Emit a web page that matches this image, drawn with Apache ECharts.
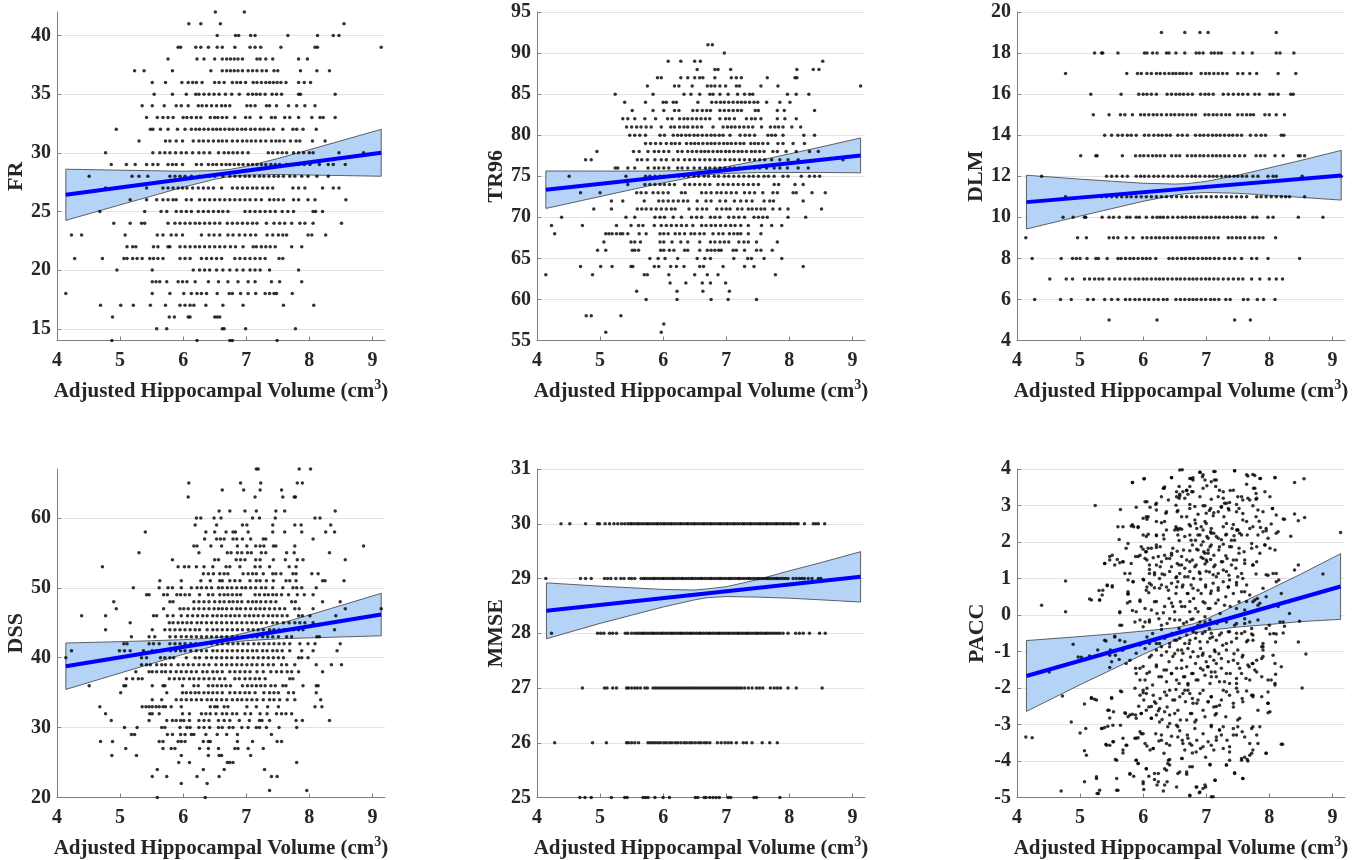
<!DOCTYPE html>
<html>
<head>
<meta charset="utf-8">
<script src="https://cdn.jsdelivr.net/npm/echarts@6/dist/echarts.min.js"></script>
<style>
    html, body {margin: 0; padding: 0; background: #fff;}
    #chart {width: 1369px; height: 860px;}
</style>
</head>
<body>
<div id="chart"></div>
<script>
// ---- FR: x values of the dots on each integer level ----
const frLevels = [42, 41, 40, 39, 38, 37, 36, 35, 34, 33, 32, 31, 30, 29, 28, 27, 26, 25, 24, 23, 22, 21, 20, 19, 18, 17, 16, 15, 14];
const frX = [
    [6.51, 6.97],
    [6.09, 6.28, 6.59, 8.55],
    [6.54, 6.83, 6.88, 7.07, 7.14, 7.66, 8.13, 8.38, 8.47],
    [5.92, 5.96, 6.20, 6.28, 6.40, 6.54, 6.62, 6.82, 7.06, 7.14, 7.23, 7.55, 8.09, 8.13, 9.14],
    [5.76, 6.22, 6.33, 6.50, 6.62, 6.69, 6.75, 6.81, 6.87, 6.94, 7.17, 7.22, 7.31, 7.42, 7.83, 7.97],
    [5.23, 5.38, 5.83, 6.44, 6.62, 6.69, 6.75, 6.81, 6.87, 6.94, 7.03, 7.10, 7.17, 7.25, 7.32, 7.44, 7.50, 7.86, 8.12, 8.32],
    [5.51, 5.72, 5.98, 6.08, 6.15, 6.21, 6.30, 6.50, 6.57, 6.65, 6.78, 6.85, 6.91, 6.99, 7.11, 7.17, 7.24, 7.31, 7.37, 7.43, 7.49, 7.55, 7.63, 7.83, 7.92, 8.02],
    [5.54, 5.83, 6.05, 6.20, 6.25, 6.33, 6.41, 6.49, 6.57, 6.67, 6.77, 6.89, 7.03, 7.10, 7.16, 7.22, 7.30, 7.41, 7.48, 7.56, 7.83, 7.86, 8.41],
    [5.35, 5.51, 5.70, 5.89, 5.97, 6.08, 6.24, 6.30, 6.37, 6.45, 6.53, 6.61, 6.67, 6.74, 7.01, 7.07, 7.14, 7.32, 7.37, 7.48, 7.67, 7.80, 7.93, 8.09],
    [5.42, 5.59, 5.68, 5.76, 5.84, 6.00, 6.06, 6.13, 6.21, 6.28, 6.43, 6.50, 6.55, 6.62, 6.69, 6.82, 6.99, 7.06, 7.23, 7.40, 7.46, 7.61, 7.69, 7.83, 8.04, 8.17, 8.22, 8.41],
    [4.94, 5.48, 5.52, 5.64, 5.76, 5.91, 6.03, 6.13, 6.20, 6.26, 6.33, 6.40, 6.47, 6.53, 6.59, 6.66, 6.73, 6.79, 6.86, 6.93, 6.99, 7.07, 7.14, 7.22, 7.28, 7.35, 7.43, 7.58, 7.74, 7.80, 7.90, 8.11],
    [5.30, 5.72, 5.79, 5.89, 5.99, 6.16, 6.25, 6.32, 6.40, 6.48, 6.56, 6.62, 6.69, 6.78, 6.86, 6.94, 7.01, 7.08, 7.15, 7.23, 7.31, 7.40, 7.47, 7.53, 7.60, 7.70, 7.79, 7.85, 8.05, 8.25],
    [4.77, 5.52, 5.63, 5.71, 5.79, 5.88, 5.97, 6.05, 6.15, 6.25, 6.33, 6.42, 6.56, 6.65, 6.72, 6.79, 6.86, 6.94, 7.03, 7.35, 7.42, 7.50, 7.57, 7.64, 7.75, 7.83, 7.91, 8.00, 8.06, 8.47, 8.86],
    [4.86, 5.10, 5.24, 5.42, 5.52, 5.60, 5.76, 5.83, 5.89, 5.99, 6.21, 6.29, 6.40, 6.47, 6.53, 6.61, 6.68, 6.74, 6.81, 6.88, 6.95, 7.03, 7.10, 7.17, 7.24, 7.31, 7.39, 7.46, 7.53, 7.64, 7.72, 7.83, 7.92, 8.01, 8.16, 8.30, 8.38, 8.57],
    [4.51, 5.19, 5.30, 5.44, 5.79, 5.87, 5.95, 6.03, 6.13, 6.26, 6.34, 6.42, 6.50, 6.63, 6.74, 6.82, 6.90, 6.98, 7.05, 7.13, 7.21, 7.28, 7.36, 7.44, 7.51, 7.59, 7.69, 7.77, 7.88, 7.98, 8.12, 8.30],
    [4.77, 5.42, 5.68, 5.76, 5.84, 5.92, 5.99, 6.06, 6.15, 6.24, 6.32, 6.40, 6.48, 6.61, 6.78, 6.86, 6.94, 7.02, 7.10, 7.17, 7.26, 7.34, 7.42, 7.74, 7.83, 7.93, 8.21, 8.38, 8.47],
    [5.16, 5.42, 5.58, 5.68, 5.76, 5.84, 5.89, 6.05, 6.13, 6.26, 6.34, 6.42, 6.50, 6.58, 6.66, 6.74, 6.82, 6.90, 6.98, 7.06, 7.15, 7.24, 7.37, 7.44, 7.51, 7.59, 7.75, 7.83, 7.98, 8.09, 8.58],
    [4.68, 5.39, 5.65, 5.74, 5.89, 5.97, 6.05, 6.13, 6.24, 6.32, 6.40, 6.48, 6.56, 6.63, 6.71, 6.98, 7.06, 7.14, 7.22, 7.30, 7.38, 7.46, 7.57, 7.66, 7.75, 8.06, 8.10, 8.21],
    [4.90, 5.16, 5.34, 5.39, 5.76, 5.87, 5.95, 6.03, 6.11, 6.19, 6.26, 6.34, 6.42, 6.50, 6.58, 6.70, 6.78, 6.86, 6.94, 7.02, 7.10, 7.17, 7.32, 7.44, 7.53, 7.61, 7.72, 7.85, 7.93, 8.06, 8.51],
    [4.23, 4.39, 5.08, 5.59, 5.68, 5.81, 5.89, 5.99, 6.29, 6.41, 6.49, 6.58, 6.71, 6.79, 6.89, 6.98, 7.07, 7.15, 7.33, 7.42, 7.51, 7.58, 7.64, 7.98, 8.04, 8.26],
    [5.11, 5.20, 5.25, 5.53, 5.60, 5.76, 5.79, 5.95, 6.03, 6.11, 6.19, 6.26, 6.34, 6.42, 6.50, 6.58, 6.66, 6.75, 6.83, 6.95, 7.11, 7.16, 7.24, 7.31, 7.38, 7.46, 7.72, 7.88],
    [4.28, 4.72, 5.06, 5.11, 5.20, 5.27, 5.35, 5.47, 5.53, 5.60, 5.68, 5.95, 6.03, 6.11, 6.29, 6.37, 6.45, 6.53, 6.61, 6.82, 6.90, 6.98, 7.06, 7.14, 7.22, 7.30, 7.52, 7.58],
    [4.95, 5.51, 6.16, 6.26, 6.34, 6.42, 6.53, 6.63, 6.74, 6.85, 6.95, 7.06, 7.14, 7.22, 7.37, 7.83],
    [5.51, 5.57, 5.63, 5.74, 5.92, 5.99, 6.06, 6.19, 6.40, 6.56, 6.71, 6.87, 7.03, 7.14, 7.40, 7.53, 7.88],
    [4.14, 5.51, 5.79, 6.01, 6.13, 6.22, 6.29, 6.37, 6.54, 6.73, 6.78, 6.91, 7.03, 7.15, 7.30, 7.37, 7.44, 7.48, 7.73],
    [4.69, 5.01, 5.21, 5.48, 5.72, 5.95, 6.03, 6.11, 6.17, 6.36, 6.63, 6.95, 7.59, 8.07],
    [4.88, 5.78, 5.86, 6.08, 6.11, 6.50, 6.54, 6.58],
    [5.58, 5.74, 6.62, 6.65, 6.99, 7.78],
    [4.87, 6.22, 6.74, 6.78, 7.49]
];
const frFit = [[4.14, 26.42], [9.14, 30.0]];
const frCiX = [4.14, 5.0, 5.5, 6.0, 6.5, 6.75, 7.0, 7.5, 8.0, 8.5, 9.14];
const frCiHi = [28.60, 28.52, 28.47, 28.43, 28.48, 28.59, 28.84, 29.51, 30.26, 31.02, 32.0];
const frCiLo = [24.24, 25.56, 26.31, 27.07, 27.74, 27.99, 28.10, 28.15, 28.10, 28.06, 28.0];
const frTicks = [15, 20, 25, 30, 35, 40];

// ---- TR96 ----
const trLevels = [91, 90, 89, 88, 87, 86, 85, 84, 83, 82, 81, 80, 79, 78, 77, 76, 75, 74, 73, 72, 71, 70, 69, 68, 67, 66, 65, 64, 63, 62, 61, 60, 58, 57, 56];
const trX = [
    [6.71, 6.78],
    [6.97],
    [6.08, 6.28, 6.50, 6.59, 8.53],
    [6.54, 6.82, 6.87, 7.07, 8.12, 8.38, 8.47],
    [5.91, 5.97, 6.28, 6.39, 6.50, 6.58, 6.63, 6.82, 7.08, 7.16, 7.24, 7.65, 8.09, 8.12],
    [5.75, 6.18, 6.25, 6.46, 6.70, 6.76, 6.82, 6.90, 6.99, 7.16, 7.21, 7.55, 7.82, 9.13],
    [5.24, 5.84, 6.33, 6.44, 6.58, 6.74, 6.79, 6.90, 7.03, 7.18, 7.29, 7.37, 7.42, 7.97, 8.11, 8.31],
    [5.39, 5.72, 6.00, 6.05, 6.16, 6.21, 6.55, 6.77, 6.84, 6.91, 6.97, 7.04, 7.11, 7.18, 7.24, 7.30, 7.37, 7.44, 7.50, 7.64, 7.85, 8.01],
    [5.51, 5.84, 6.01, 6.18, 6.25, 6.47, 6.54, 6.62, 6.69, 6.75, 6.90, 6.97, 7.04, 7.11, 7.18, 7.24, 7.46, 7.51, 7.81, 7.92, 8.40],
    [5.36, 5.44, 5.55, 5.71, 5.88, 6.07, 6.14, 6.26, 6.33, 6.39, 6.46, 6.53, 6.60, 6.67, 6.74, 6.90, 6.99, 7.05, 7.13, 7.32, 7.40, 7.46, 7.55, 7.81, 7.93, 8.11],
    [5.42, 5.50, 5.58, 5.65, 5.73, 5.81, 5.97, 6.12, 6.18, 6.26, 6.33, 6.39, 6.47, 6.54, 6.61, 6.79, 6.95, 7.02, 7.08, 7.14, 7.21, 7.28, 7.35, 7.42, 7.56, 7.70, 7.77, 7.83, 7.90, 8.04, 8.18],
    [5.47, 5.55, 5.63, 5.72, 5.95, 6.02, 6.16, 6.23, 6.29, 6.36, 6.42, 6.49, 6.55, 6.62, 6.69, 6.76, 6.82, 6.89, 6.95, 7.06, 7.22, 7.30, 7.37, 7.45, 7.66, 7.72, 7.78, 7.90, 8.23, 8.40],
    [5.72, 5.80, 5.88, 5.96, 6.05, 6.13, 6.19, 6.26, 6.37, 6.44, 6.50, 6.56, 6.63, 6.70, 6.76, 6.82, 6.89, 6.96, 7.02, 7.08, 7.15, 7.22, 7.28, 7.39, 7.45, 7.51, 7.58, 7.66, 7.82, 7.90, 8.06, 8.24],
    [4.95, 5.53, 5.62, 5.76, 5.86, 5.93, 6.01, 6.09, 6.23, 6.30, 6.39, 6.46, 6.53, 6.60, 6.66, 6.72, 6.79, 6.86, 6.92, 6.99, 7.05, 7.12, 7.19, 7.25, 7.32, 7.40, 7.46, 7.53, 7.60, 7.74, 7.81, 7.95, 8.11, 8.32, 8.46],
    [4.77, 4.86, 5.59, 5.66, 5.75, 5.87, 5.97, 6.05, 6.16, 6.24, 6.34, 6.42, 6.50, 6.58, 6.66, 6.74, 6.82, 6.90, 6.98, 7.06, 7.13, 7.21, 7.29, 7.37, 7.45, 7.53, 7.61, 7.72, 7.85, 7.98, 8.14, 8.85],
    [5.24, 5.28, 5.44, 5.55, 5.76, 5.86, 5.93, 6.01, 6.09, 6.23, 6.30, 6.39, 6.49, 6.58, 6.67, 6.74, 6.82, 6.90, 6.98, 7.06, 7.13, 7.21, 7.29, 7.37, 7.45, 7.53, 7.64, 7.76, 7.85, 7.97, 8.14, 8.30],
    [4.51, 5.41, 5.72, 5.79, 5.87, 5.95, 6.01, 6.10, 6.18, 6.25, 6.33, 6.40, 6.49, 6.56, 6.65, 6.72, 6.81, 6.88, 6.97, 7.04, 7.12, 7.20, 7.28, 7.36, 7.43, 7.51, 7.60, 7.67, 7.76, 7.90, 7.98, 8.19, 8.32, 8.40, 8.48],
    [5.44, 5.71, 5.79, 5.87, 5.95, 6.02, 6.10, 6.18, 6.34, 6.42, 6.50, 6.58, 6.66, 6.74, 6.87, 6.95, 7.03, 7.11, 7.19, 7.27, 7.35, 7.43, 7.51, 7.76, 7.83, 8.09, 8.22],
    [4.69, 5.00, 5.58, 5.65, 5.73, 5.84, 5.92, 6.00, 6.08, 6.29, 6.35, 6.61, 6.68, 6.76, 6.85, 6.92, 7.00, 7.08, 7.16, 7.29, 7.37, 7.45, 7.58, 7.74, 7.81, 8.06, 8.11, 8.36, 8.57],
    [5.18, 5.36, 5.70, 5.93, 6.00, 6.08, 6.16, 6.24, 6.32, 6.39, 6.54, 6.68, 6.76, 6.90, 6.99, 7.13, 7.23, 7.32, 7.41, 7.60, 7.69, 7.75, 8.22],
    [4.90, 5.18, 5.59, 5.66, 5.73, 5.81, 5.89, 5.97, 6.05, 6.13, 6.19, 6.41, 6.54, 6.62, 6.69, 6.85, 6.93, 7.00, 7.06, 7.18, 7.25, 7.35, 7.41, 7.48, 7.55, 7.61, 7.74, 7.85, 7.98, 8.51],
    [4.39, 5.41, 5.55, 5.87, 5.95, 6.02, 6.16, 6.29, 6.45, 6.53, 6.61, 6.75, 6.82, 6.90, 7.04, 7.12, 7.20, 7.29, 7.44, 7.51, 7.58, 7.65, 7.98, 8.26],
    [4.23, 4.72, 5.26, 5.49, 5.61, 5.68, 5.86, 5.97, 6.05, 6.13, 6.21, 6.29, 6.37, 6.47, 6.61, 6.68, 6.76, 6.83, 6.91, 6.99, 7.07, 7.14, 7.23, 7.35, 7.56, 7.72, 7.88],
    [4.28, 5.09, 5.14, 5.19, 5.26, 5.32, 5.36, 5.44, 5.62, 5.73, 5.95, 6.01, 6.08, 6.19, 6.26, 6.34, 6.44, 6.50, 6.58, 6.65, 6.79, 6.88, 6.95, 7.05, 7.12, 7.18, 7.23, 7.35, 7.55],
    [5.06, 5.49, 5.55, 5.64, 5.95, 6.01, 6.14, 6.28, 6.39, 6.58, 6.75, 6.82, 6.90, 6.97, 7.04, 7.20, 7.28, 7.35, 7.48, 7.81],
    [4.96, 5.09, 5.51, 5.55, 5.61, 5.96, 6.01, 6.10, 6.17, 6.34, 6.39, 6.58, 6.70, 6.76, 6.82, 6.88, 6.92, 7.11, 7.16, 7.29, 7.48, 7.55, 7.73],
    [5.79, 5.92, 6.03, 6.23, 6.54, 6.66, 6.75, 7.12, 7.34, 7.40, 7.60, 7.88],
    [4.69, 5.01, 5.19, 5.49, 5.52, 5.86, 5.93, 6.12, 6.21, 6.33, 6.58, 6.64, 6.95, 7.29, 7.44, 8.22],
    [4.14, 4.88, 5.70, 5.75, 6.09, 6.50, 6.70, 6.87, 7.78],
    [6.11, 6.36, 6.62, 6.75, 6.99],
    [5.58, 6.22, 6.63, 7.05],
    [5.73, 6.22, 6.76, 7.03, 7.48],
    [4.78, 4.86, 5.33],
    [6.01],
    [5.09, 5.97]
];
const trFit = [[4.14, 73.36], [9.13, 77.54]];
const trCiX = [4.14, 5.0, 5.5, 6.0, 6.5, 6.75, 7.0, 7.5, 8.0, 8.5, 9.13];
const trCiHi = [75.64, 75.63, 75.63, 75.64, 75.73, 75.86, 76.15, 76.89, 77.72, 78.56, 79.66];
const trCiLo = [71.08, 72.53, 73.37, 74.20, 74.93, 75.22, 75.35, 75.45, 75.46, 75.46, 75.42];
const trTicks = [55, 60, 65, 70, 75, 80, 85, 90, 95];

// ---- DLM ----
const dlmLevels = [19, 18, 17, 16, 15, 14, 13, 12, 11, 10, 9, 8, 7, 6, 5];
const dlmX = [
    [6.29, 6.66, 6.90, 7.03, 8.11],
    [5.23, 5.34, 5.36, 5.60, 6.02, 6.06, 6.15, 6.22, 6.37, 6.41, 6.52, 6.66, 6.84, 6.89, 6.95, 7.08, 7.13, 7.19, 7.24, 7.44, 7.58, 7.73, 8.11, 8.17, 8.39],
    [4.77, 5.74, 5.91, 5.97, 6.06, 6.13, 6.21, 6.27, 6.34, 6.41, 6.47, 6.52, 6.58, 6.63, 6.69, 6.76, 6.92, 6.99, 7.05, 7.12, 7.19, 7.26, 7.33, 7.50, 7.58, 7.69, 7.80, 8.14, 8.42],
    [5.17, 5.65, 5.93, 6.00, 6.06, 6.13, 6.21, 6.38, 6.45, 6.52, 6.58, 6.64, 6.71, 6.78, 6.91, 6.98, 7.04, 7.11, 7.27, 7.35, 7.43, 7.51, 7.58, 7.66, 7.77, 7.84, 8.01, 8.06, 8.14, 8.34, 8.38],
    [5.21, 5.46, 5.64, 5.71, 5.83, 5.96, 6.02, 6.09, 6.16, 6.22, 6.29, 6.37, 6.44, 6.50, 6.57, 6.63, 6.70, 6.77, 6.83, 6.98, 7.04, 7.11, 7.17, 7.24, 7.31, 7.37, 7.50, 7.57, 7.64, 7.70, 7.75, 7.93, 8.00, 8.11, 8.24],
    [5.39, 5.50, 5.60, 5.67, 5.75, 5.81, 5.89, 6.02, 6.09, 6.17, 6.24, 6.30, 6.37, 6.43, 6.55, 6.62, 6.70, 6.83, 6.90, 6.96, 7.03, 7.10, 7.16, 7.22, 7.29, 7.36, 7.42, 7.49, 7.56, 7.70, 7.79, 7.87, 7.94, 8.19, 8.23],
    [5.01, 5.25, 5.27, 5.67, 5.88, 5.95, 6.01, 6.08, 6.15, 6.21, 6.27, 6.34, 6.45, 6.52, 6.58, 6.70, 6.77, 6.83, 6.90, 6.96, 7.03, 7.10, 7.16, 7.22, 7.29, 7.36, 7.45, 7.53, 7.61, 7.79, 7.86, 7.93, 8.09, 8.22, 8.46, 8.49, 8.56],
    [4.39, 5.42, 5.50, 5.58, 5.67, 5.75, 5.89, 5.96, 6.02, 6.09, 6.17, 6.24, 6.32, 6.40, 6.47, 6.55, 6.62, 6.70, 6.77, 6.83, 6.90, 6.98, 7.05, 7.11, 7.17, 7.24, 7.31, 7.37, 7.44, 7.50, 7.57, 7.64, 7.74, 7.82, 7.98, 8.06, 8.11, 8.52, 9.14],
    [4.77, 5.34, 5.42, 5.50, 5.58, 5.66, 5.74, 5.81, 5.89, 5.97, 6.05, 6.13, 6.21, 6.29, 6.37, 6.45, 6.53, 6.61, 6.69, 6.77, 6.85, 6.92, 7.00, 7.08, 7.16, 7.24, 7.32, 7.40, 7.48, 7.56, 7.64, 7.80, 7.87, 7.95, 8.03, 8.11, 8.19, 8.26, 8.32, 8.56],
    [4.73, 4.89, 5.07, 5.09, 5.35, 5.46, 5.53, 5.62, 5.74, 5.79, 5.89, 5.94, 6.05, 6.15, 6.22, 6.27, 6.32, 6.39, 6.47, 6.55, 6.62, 6.68, 6.75, 6.81, 6.88, 6.95, 7.01, 7.08, 7.15, 7.21, 7.28, 7.34, 7.41, 7.48, 7.54, 7.61, 7.74, 7.80, 7.98, 8.06, 8.46, 8.85],
    [4.14, 4.96, 5.10, 5.46, 5.53, 5.60, 5.73, 5.84, 5.99, 6.06, 6.13, 6.20, 6.26, 6.33, 6.39, 6.46, 6.53, 6.59, 6.66, 6.73, 6.79, 6.85, 6.92, 6.99, 7.05, 7.12, 7.19, 7.35, 7.41, 7.48, 7.54, 7.61, 7.69, 7.77, 7.84, 7.90, 8.10],
    [4.24, 4.70, 4.88, 4.94, 5.00, 5.11, 5.25, 5.29, 5.43, 5.60, 5.65, 5.72, 5.79, 5.85, 5.92, 5.99, 6.05, 6.11, 6.20, 6.41, 6.47, 6.54, 6.61, 6.67, 6.74, 6.80, 6.87, 6.94, 7.00, 7.06, 7.13, 7.20, 7.29, 7.37, 7.45, 7.56, 7.72, 7.80, 7.98, 8.48],
    [4.52, 4.78, 4.88, 5.07, 5.15, 5.23, 5.30, 5.36, 5.46, 5.55, 5.63, 5.71, 5.79, 5.87, 5.93, 6.00, 6.06, 6.13, 6.20, 6.26, 6.32, 6.39, 6.46, 6.53, 6.59, 6.66, 6.73, 6.79, 6.85, 6.92, 6.99, 7.05, 7.12, 7.19, 7.27, 7.35, 7.43, 7.51, 7.58, 7.72, 7.85, 8.00, 8.11, 8.21],
    [4.28, 4.69, 4.86, 5.12, 5.21, 5.39, 5.50, 5.60, 5.72, 5.79, 5.87, 5.94, 6.02, 6.09, 6.17, 6.24, 6.32, 6.38, 6.52, 6.59, 6.66, 6.73, 6.79, 6.85, 6.92, 6.99, 7.07, 7.13, 7.20, 7.31, 7.38, 7.59, 7.66, 7.81, 7.91, 8.09],
    [5.46, 6.22, 7.45, 7.70]
];
const dlmFit = [[4.15, 10.74], [9.14, 12.04]];
const dlmCiX = [4.15, 5.0, 5.5, 6.0, 6.5, 6.7, 7.0, 7.5, 8.0, 8.5, 9.14];
const dlmCiHi = [12.05, 11.86, 11.76, 11.66, 11.62, 11.64, 11.75, 12.05, 12.41, 12.77, 13.26];
const dlmCiLo = [9.43, 10.06, 10.42, 10.78, 11.08, 11.16, 11.21, 11.17, 11.07, 10.97, 10.84];
const dlmTicks = [4, 6, 8, 10, 12, 14, 16, 18, 20];

// ---- DSS ----
const dssLevels = [67, 65, 64, 63, 61, 60, 59, 58, 57, 56, 55, 54, 53, 52, 51, 50, 49, 48, 47, 46, 45, 44, 43, 42, 41, 40, 39, 38, 37, 36, 35, 34, 33, 32, 31, 30, 29, 28, 27, 26, 25, 24, 23, 22, 21, 20];
const dssX = [
    [7.16, 7.19, 7.84, 8.02],
    [6.09, 6.91, 7.23, 7.81, 7.89],
    [6.62, 6.96, 7.22, 7.56],
    [6.08, 7.14, 7.58, 7.76, 7.78],
    [6.57, 6.74, 6.98, 7.16, 7.47, 7.61, 8.41],
    [6.21, 6.28, 6.49, 6.60, 7.10, 7.21, 7.46, 8.09, 8.17],
    [6.19, 6.53, 6.94, 7.01, 7.42, 7.77, 7.87, 8.34],
    [5.40, 6.36, 6.50, 6.68, 6.79, 6.83, 7.03, 7.42, 7.61, 7.88, 8.26, 8.40],
    [6.34, 6.53, 6.59, 6.65, 6.79, 6.85, 6.94, 7.07, 7.27, 7.31, 8.06],
    [6.17, 6.22, 6.44, 6.61, 6.86, 7.01, 7.15, 7.22, 7.28, 7.43, 7.47, 7.77, 8.86],
    [5.30, 6.25, 6.70, 6.76, 6.86, 6.93, 7.02, 7.08, 7.24, 7.31, 7.64, 7.76, 8.32],
    [5.83, 6.50, 6.56, 6.84, 6.91, 6.98, 7.15, 7.22, 7.43, 7.62, 7.81, 7.90, 8.57],
    [4.72, 5.92, 6.02, 6.09, 6.21, 6.33, 6.47, 6.68, 6.74, 6.90, 7.14, 7.22, 7.37, 7.68, 7.79],
    [6.32, 6.40, 6.48, 6.58, 6.65, 6.71, 6.95, 7.03, 7.10, 7.16, 7.27, 7.42, 7.47, 7.55, 7.74, 7.79, 8.04, 8.14],
    [5.63, 5.97, 6.28, 6.43, 6.58, 6.62, 6.74, 6.82, 6.90, 7.06, 7.16, 7.22, 7.32, 7.43, 7.63, 7.69, 7.79, 8.21, 8.25, 8.55],
    [5.21, 5.62, 5.76, 5.83, 5.97, 6.13, 6.22, 6.29, 6.37, 6.45, 6.56, 6.62, 6.70, 6.77, 6.85, 6.93, 6.99, 7.07, 7.15, 7.24, 7.31, 7.42, 7.58, 7.74, 7.80, 7.88, 8.11],
    [5.42, 5.46, 5.69, 5.75, 5.90, 5.96, 6.03, 6.10, 6.26, 6.40, 6.47, 6.58, 6.65, 6.71, 6.78, 6.85, 6.91, 7.14, 7.21, 7.29, 7.35, 7.42, 7.48, 7.56, 7.67, 7.81, 7.92, 8.06],
    [4.90, 5.79, 5.84, 6.17, 6.25, 6.33, 6.41, 6.50, 6.58, 6.65, 6.73, 6.79, 6.86, 6.93, 7.03, 7.10, 7.16, 7.23, 7.31, 7.39, 7.47, 7.72, 7.78, 8.21, 8.49],
    [4.94, 5.69, 5.95, 6.01, 6.08, 6.17, 6.25, 6.33, 6.41, 6.49, 6.56, 6.62, 6.69, 6.77, 6.85, 6.91, 6.99, 7.07, 7.15, 7.22, 7.29, 7.37, 7.45, 7.53, 7.61, 7.77, 7.84, 8.06, 8.57, 9.14],
    [4.39, 4.77, 5.53, 5.58, 5.75, 5.84, 5.97, 6.07, 6.15, 6.23, 6.31, 6.38, 6.47, 6.54, 6.61, 6.68, 6.75, 6.82, 6.89, 6.98, 7.05, 7.12, 7.19, 7.27, 7.35, 7.42, 7.49, 7.57, 7.65, 7.83, 7.89, 8.01, 8.42],
    [5.16, 5.78, 5.84, 5.92, 5.99, 6.06, 6.13, 6.22, 6.29, 6.37, 6.45, 6.53, 6.61, 6.69, 6.77, 6.85, 6.93, 7.01, 7.09, 7.16, 7.24, 7.32, 7.42, 7.49, 7.59, 7.68, 7.77, 7.85, 7.93, 8.06],
    [4.77, 5.51, 5.71, 5.79, 5.87, 5.95, 6.03, 6.11, 6.19, 6.26, 6.38, 6.47, 6.54, 6.62, 6.70, 6.78, 6.86, 6.94, 7.03, 7.11, 7.19, 7.27, 7.37, 7.44, 7.52, 7.60, 7.75, 7.83, 7.90, 8.40],
    [5.18, 5.46, 5.55, 5.79, 5.88, 5.97, 6.05, 6.13, 6.21, 6.29, 6.37, 6.45, 6.53, 6.61, 6.69, 6.78, 6.86, 6.94, 7.02, 7.10, 7.17, 7.26, 7.34, 7.42, 7.51, 7.64, 7.72, 8.12, 8.16],
    [5.06, 5.11, 5.46, 5.53, 5.62, 5.79, 5.87, 5.95, 6.03, 6.12, 6.20, 6.29, 6.37, 6.45, 6.54, 6.62, 6.71, 6.79, 6.87, 6.95, 7.03, 7.12, 7.20, 7.28, 7.36, 7.44, 7.52, 7.60, 7.69, 7.85, 7.98, 8.09, 8.49],
    [4.23, 4.99, 5.07, 5.16, 5.37, 5.51, 5.58, 5.66, 5.80, 5.88, 5.96, 6.03, 6.12, 6.21, 6.29, 6.37, 6.47, 6.54, 6.62, 6.70, 6.78, 6.86, 6.94, 7.02, 7.10, 7.17, 7.26, 7.33, 7.42, 7.49, 7.57, 7.69, 7.88, 8.06, 8.44],
    [4.14, 5.34, 5.42, 5.64, 5.71, 5.79, 5.85, 6.05, 6.19, 6.26, 6.37, 6.45, 6.53, 6.61, 6.69, 6.77, 6.86, 6.94, 7.03, 7.11, 7.19, 7.27, 7.35, 7.43, 7.51, 7.59, 7.83, 7.88, 7.98],
    [5.34, 5.42, 5.48, 5.58, 5.66, 5.72, 5.81, 5.92, 6.00, 6.08, 6.16, 6.25, 6.33, 6.41, 6.52, 6.61, 6.69, 6.77, 6.85, 6.93, 7.01, 7.09, 7.17, 7.26, 7.35, 7.43, 7.56, 7.64, 7.77, 8.11, 8.35, 8.51],
    [5.25, 5.46, 5.51, 5.58, 5.66, 5.72, 5.80, 5.89, 5.97, 6.05, 6.13, 6.21, 6.31, 6.38, 6.47, 6.54, 6.62, 6.74, 6.82, 6.90, 6.98, 7.06, 7.17, 7.27, 7.39, 7.48, 7.56, 7.65, 7.72, 7.83, 8.21],
    [5.10, 5.20, 5.29, 5.35, 5.78, 5.86, 5.94, 6.01, 6.10, 6.17, 6.25, 6.33, 6.41, 6.49, 6.58, 6.66, 6.82, 6.89, 6.98, 7.06, 7.14, 7.21, 7.30, 7.69, 7.74],
    [4.51, 5.06, 5.09, 5.51, 5.68, 5.71, 5.99, 6.17, 6.24, 6.40, 6.47, 6.54, 6.61, 6.68, 6.75, 6.94, 7.02, 7.09, 7.16, 7.23, 7.30, 7.39, 7.46, 7.58, 7.63, 7.90, 8.11, 8.14],
    [5.01, 5.74, 5.99, 6.05, 6.12, 6.19, 6.25, 6.33, 6.40, 6.47, 6.54, 6.62, 6.74, 6.82, 6.90, 6.98, 7.05, 7.14, 7.28, 7.37, 7.44, 7.51, 7.67, 7.75, 8.11],
    [5.51, 5.66, 5.89, 5.97, 6.05, 6.13, 6.21, 6.29, 6.38, 6.45, 6.53, 6.61, 6.69, 6.78, 6.86, 6.93, 7.01, 7.09, 7.17, 7.27, 7.37, 7.44, 7.53, 7.65, 7.77, 8.18],
    [4.68, 5.35, 5.41, 5.46, 5.51, 5.57, 5.62, 5.68, 5.72, 5.81, 5.97, 6.43, 6.50, 6.54, 6.65, 6.71, 7.01, 7.16, 7.34, 7.51, 8.09, 8.20],
    [4.77, 5.47, 5.51, 5.62, 5.99, 6.10, 6.29, 6.36, 6.43, 6.52, 6.62, 6.69, 6.78, 6.85, 6.98, 7.07, 7.22, 7.33, 7.48, 7.56, 7.63, 7.72],
    [4.86, 5.46, 5.74, 5.83, 5.89, 5.96, 6.01, 6.10, 6.25, 6.33, 6.41, 6.56, 6.65, 6.74, 6.89, 7.05, 7.21, 7.25, 7.37, 7.79, 7.89, 8.32],
    [5.07, 5.27, 5.66, 5.71, 5.95, 6.06, 6.11, 6.25, 6.33, 6.42, 6.56, 6.62, 6.73, 6.79, 6.93, 7.03, 7.16, 7.21, 7.32, 7.52, 7.80],
    [5.18, 5.23, 5.75, 5.83, 5.96, 6.03, 6.13, 6.17, 6.36, 6.54, 6.69, 6.86, 7.40],
    [4.69, 4.88, 5.62, 5.68, 5.92, 5.97, 6.03, 6.32, 6.40, 6.43, 6.86, 7.10, 7.49, 7.56],
    [5.09, 5.68, 5.81, 5.87, 6.26, 6.40, 6.56, 6.82, 6.87, 7.03, 7.27],
    [4.87, 5.26, 5.97, 6.40, 6.57, 6.61, 7.07],
    [5.93, 6.10, 6.70, 6.74, 6.79, 7.80],
    [5.59, 6.32, 6.65, 7.29],
    [5.51, 5.74, 6.22, 6.57, 7.40, 7.49],
    [5.97, 6.38],
    [7.37, 7.96],
    [5.59, 6.35]
];
const dssFit = [[4.14, 38.78], [9.14, 46.17]];
const dssCiX = [4.14, 5.0, 5.5, 6.0, 6.5, 6.75, 7.0, 7.5, 8.0, 8.5, 9.14];
const dssCiHi = [42.10, 42.30, 42.43, 42.58, 42.85, 43.09, 43.59, 44.80, 46.12, 47.47, 49.21];
const dssCiLo = [35.46, 37.80, 39.15, 40.48, 41.69, 42.19, 42.43, 42.70, 42.84, 42.97, 43.13];
const dssTicks = [20, 30, 40, 50, 60];

// ---- MMSE ----
const mmLevels = [30, 29, 28, 27, 26, 25];
const mmX = [
    [4.38, 4.52, 4.77, 4.96, 4.99, 5.08, 5.15, 5.22, 5.28, 5.34, 5.39, 5.44, 5.48, 5.51, 5.55, 5.59, 5.62, 5.66, 5.70, 5.74, 5.77, 5.81, 5.85, 5.89, 5.92, 5.96, 6.00, 6.03, 6.07, 6.11, 6.14, 6.18, 6.22, 6.26, 6.29, 6.33, 6.37, 6.40, 6.44, 6.48, 6.51, 6.55, 6.59, 6.63, 6.66, 6.70, 6.74, 6.77, 6.81, 6.85, 6.89, 6.92, 6.96, 7.00, 7.03, 7.07, 7.11, 7.14, 7.18, 7.22, 7.26, 7.29, 7.33, 7.37, 7.40, 7.44, 7.48, 7.52, 7.55, 7.59, 7.63, 7.66, 7.70, 7.74, 7.78, 7.81, 7.85, 7.89, 7.92, 7.96, 8.00, 8.03, 8.07, 8.11, 8.14, 8.24, 8.38, 8.42, 8.46, 8.56],
    [4.14, 4.69, 4.77, 4.86, 5.07, 5.12, 5.17, 5.25, 5.33, 5.38, 5.46, 5.50, 5.55, 5.65, 5.69, 5.72, 5.76, 5.80, 5.84, 5.87, 5.91, 5.95, 5.99, 6.02, 6.06, 6.10, 6.14, 6.17, 6.21, 6.25, 6.29, 6.32, 6.36, 6.40, 6.44, 6.47, 6.51, 6.55, 6.59, 6.62, 6.66, 6.70, 6.74, 6.77, 6.81, 6.85, 6.89, 6.92, 6.96, 7.00, 7.04, 7.07, 7.11, 7.15, 7.19, 7.22, 7.26, 7.30, 7.34, 7.37, 7.41, 7.45, 7.49, 7.52, 7.56, 7.60, 7.64, 7.67, 7.71, 7.75, 7.79, 7.82, 7.86, 7.90, 7.94, 7.98, 8.06, 8.11, 8.16, 8.20, 8.24, 8.30, 8.36, 8.46, 8.50],
    [4.23, 4.96, 5.01, 5.06, 5.15, 5.20, 5.26, 5.40, 5.44, 5.50, 5.55, 5.59, 5.63, 5.67, 5.70, 5.74, 5.78, 5.82, 5.85, 5.89, 5.93, 5.97, 6.00, 6.04, 6.08, 6.12, 6.15, 6.19, 6.23, 6.27, 6.30, 6.34, 6.38, 6.42, 6.45, 6.49, 6.53, 6.57, 6.60, 6.64, 6.68, 6.72, 6.75, 6.79, 6.83, 6.87, 6.90, 6.94, 6.98, 7.02, 7.05, 7.09, 7.13, 7.17, 7.20, 7.24, 7.28, 7.32, 7.35, 7.39, 7.43, 7.47, 7.50, 7.54, 7.58, 7.62, 7.65, 7.69, 7.73, 7.77, 7.81, 7.85, 7.90, 7.98, 8.10, 8.16, 8.22, 8.32, 8.48, 8.57],
    [4.72, 5.07, 5.11, 5.20, 5.26, 5.42, 5.45, 5.50, 5.55, 5.59, 5.64, 5.71, 5.75, 5.84, 5.88, 5.92, 5.96, 6.00, 6.04, 6.08, 6.12, 6.16, 6.20, 6.24, 6.28, 6.32, 6.36, 6.40, 6.44, 6.48, 6.52, 6.56, 6.60, 6.64, 6.68, 6.72, 6.76, 6.80, 6.84, 6.88, 6.92, 6.96, 7.00, 7.04, 7.08, 7.12, 7.16, 7.20, 7.24, 7.29, 7.35, 7.41, 7.48, 7.53, 7.58, 7.70, 7.76, 7.81, 7.86, 7.98, 8.11, 8.52],
    [4.28, 4.88, 5.10, 5.42, 5.45, 5.50, 5.55, 5.61, 5.76, 5.80, 5.84, 5.88, 5.92, 5.96, 6.01, 6.05, 6.10, 6.14, 6.19, 6.23, 6.28, 6.33, 6.37, 6.42, 6.46, 6.51, 6.56, 6.60, 6.65, 6.69, 6.74, 6.86, 6.92, 6.98, 7.03, 7.08, 7.16, 7.27, 7.32, 7.41, 7.57, 7.69, 7.81],
    [4.68, 4.76, 4.86, 5.18, 5.39, 5.43, 5.68, 5.72, 5.76, 5.87, 6.00, 6.10, 6.51, 6.55, 6.65, 6.68, 6.74, 6.79, 6.84, 6.89, 7.03, 7.07, 7.44, 7.48, 7.85]
];
const mmFit = [[4.15, 28.41], [9.13, 29.03]];
const mmCiX = [4.15, 5.0, 5.5, 6.0, 6.5, 6.7, 7.0, 7.5, 8.0, 8.5, 9.13];
const mmCiHi = [28.92, 28.86, 28.83, 28.80, 28.79, 28.81, 28.85, 28.98, 29.14, 29.29, 29.49];
const mmCiLo = [27.90, 28.18, 28.33, 28.48, 28.61, 28.65, 28.67, 28.66, 28.64, 28.61, 28.57];
const mmTicks = [25, 26, 27, 28, 29, 30, 31];

// ---- PACC: [x, y] pairs, first pass over the whole panel ----
const paccPtsA = [
    [5.83, 3.63], [6.02, 3.73], [6.32, 3.47], [6.34, 3.51], [6.45, 3.77], [6.53, 3.38], [6.57, 3.20], [6.62, 3.98], [6.63, 3.38], [6.69, 3.41],
    [6.74, 3.52], [6.76, 3.74], [6.79, 3.38], [6.90, 3.91], [6.94, 3.79], [6.95, 3.47], [7.08, 3.65], [7.12, 3.93], [7.13, 3.70], [7.21, 3.42],
    [7.27, 3.38], [7.38, 3.41], [7.45, 3.95], [7.50, 3.24], [7.58, 3.15], [7.66, 3.81], [7.69, 3.15], [7.74, 3.85], [7.77, 3.47], [7.79, 3.17],
    [7.85, 3.74], [8.09, 3.77], [8.40, 3.63], [8.55, 3.73], [6.06, 3.10], [6.21, 3.06], [6.90, 3.24], [7.08, 3.17], [7.37, 3.08], [6.58, 3.26],
    [6.79, 3.70],
    [5.24, 3.00], [5.64, 2.89], [5.68, 2.42], [5.81, 2.44], [5.85, 2.42], [5.92, 2.40], [6.05, 2.69], [6.06, 2.62], [5.89, 2.95], [6.11, 2.95],
    [6.21, 2.88], [6.37, 2.83], [6.29, 2.53], [6.37, 2.33], [6.50, 2.33], [6.53, 2.37], [6.55, 2.33], [6.61, 2.35], [6.55, 2.86], [6.74, 2.92],
    [6.75, 2.44], [6.82, 2.60], [6.85, 2.37], [6.95, 2.99], [6.95, 2.33], [7.00, 2.51], [7.05, 2.86], [7.12, 2.80], [7.24, 2.95], [7.29, 3.06],
    [7.32, 2.51], [7.36, 2.88], [7.41, 2.37], [7.48, 2.83], [7.50, 2.33], [7.58, 2.78], [7.58, 2.60], [7.69, 2.37], [7.82, 2.88], [7.84, 2.57],
    [7.86, 2.40], [7.95, 2.31], [8.03, 2.49], [8.05, 2.92], [8.11, 2.74], [8.14, 2.28], [8.24, 2.62], [8.40, 2.77], [8.46, 2.58], [8.56, 2.67],
    [9.13, 2.26], [8.34, 2.16], [6.69, 2.69], [6.87, 2.19], [7.03, 2.10], [7.08, 2.24], [7.16, 2.15], [7.24, 2.06], [7.31, 2.19], [7.45, 2.05],
    [7.53, 2.24], [7.65, 2.19], [7.82, 2.19], [7.98, 2.10], [6.32, 2.19], [6.21, 2.19], [6.05, 2.15], [6.00, 2.19], [5.62, 2.07], [6.57, 2.04],
    [6.76, 2.05], [6.95, 2.01],
    [5.39, 1.41], [5.47, 1.60], [5.51, 1.64], [5.59, 1.52], [5.63, 1.43], [5.68, 1.46], [5.76, 1.96], [5.79, 1.14], [5.84, 0.91], [5.88, 1.60],
    [5.95, 1.64], [6.00, 1.80], [6.04, 1.73], [6.06, 1.51], [6.10, 1.25], [6.08, 1.83], [6.18, 1.16], [6.21, 1.85], [6.24, 1.60], [6.27, 1.32],
    [6.30, 1.12], [6.34, 1.64], [6.42, 1.55], [6.45, 1.32], [6.47, 1.83], [6.53, 1.05], [6.57, 1.37], [6.61, 1.60], [6.66, 1.28], [6.71, 1.05],
    [6.74, 1.76], [6.78, 1.51], [6.82, 1.32], [6.85, 1.80], [6.89, 1.18], [6.92, 1.58], [6.96, 1.73], [6.98, 1.40], [7.00, 1.51], [7.03, 1.69],
    [7.05, 1.18], [7.08, 1.92], [7.12, 1.32], [7.16, 1.05], [7.20, 1.78], [7.24, 1.46], [7.27, 1.23], [7.31, 1.62], [7.36, 1.09], [7.40, 1.87],
    [7.43, 1.51], [7.47, 1.28], [7.52, 1.69], [7.56, 1.14], [7.61, 1.41], [7.72, 1.96], [7.74, 1.37], [7.79, 1.12], [7.80, 1.87], [7.85, 1.69],
    [7.93, 1.92], [7.98, 1.09], [8.09, 1.78], [8.11, 1.14], [8.40, 1.23], [8.46, 1.37], [8.85, 1.12], [8.15, 0.96], [4.77, 0.93],
    [4.39, 0.27], [4.77, 0.09], [5.15, 0.44], [5.30, 0.67], [5.35, 0.55], [5.31, 0.41], [5.43, 0.82], [5.51, 0.80], [5.63, 0.06], [5.76, 0.64],
    [5.76, 0.57], [5.75, 0.33], [5.83, 0.12], [5.89, 0.09], [5.95, 0.41], [6.00, 0.98], [6.06, 0.77], [6.09, 0.61], [6.13, 0.82], [6.18, 0.36],
    [6.22, 0.04], [6.26, 0.73], [6.32, 0.06], [6.37, 0.77], [6.41, 0.45], [6.45, 0.87], [6.47, 0.23], [6.52, 0.59], [6.55, 0.91], [6.59, 0.36],
    [6.62, 0.77], [6.66, 0.23], [6.70, 0.59], [6.74, 0.09], [6.76, 0.82], [6.80, 0.45], [6.83, 0.18], [6.87, 0.68], [6.91, 0.98], [6.95, 0.36],
    [6.99, 0.77], [7.03, 0.18], [7.07, 0.59], [7.11, 0.87], [7.15, 0.32], [7.19, 0.68], [7.22, 0.04], [7.27, 0.91], [7.31, 0.50], [7.35, 0.77],
    [7.38, 0.23], [7.43, 0.59], [7.48, 0.89], [7.52, 0.36], [7.56, 0.64], [7.61, 0.14], [7.64, 0.82], [7.69, 0.55], [7.74, 0.36], [7.81, 0.45],
    [7.85, 0.32], [7.90, 0.73], [7.95, 0.50], [8.06, 0.27], [8.14, 0.23], [8.11, 0.91], [8.19, 0.59], [8.31, 0.36], [8.32, 0.04],
    [4.89, -0.80], [5.63, -0.28], [5.55, -0.58], [5.63, -0.69], [5.68, -0.96], [5.95, -0.14], [6.00, -0.32], [6.06, -0.60], [6.10, -0.19], [6.15, -0.51],
    [6.21, -0.78], [6.25, -0.10], [6.29, -0.40], [6.34, -0.64], [6.38, -0.23], [6.42, -0.87], [6.46, -0.51], [6.50, -0.14], [6.53, -0.69], [6.57, -0.37],
    [6.61, -0.96], [6.64, -0.23], [6.69, -0.55], [6.73, -0.78], [6.76, -0.12], [6.79, -0.42], [6.83, -0.64], [6.87, -0.28], [6.91, -0.92], [6.94, -0.51],
    [6.98, -0.19], [7.02, -0.74], [7.05, -0.37], [7.10, -0.60], [7.13, -0.96], [7.17, -0.23], [7.21, -0.55], [7.26, -0.83], [7.29, -0.14], [7.35, -0.46],
    [7.40, -0.74], [7.45, -0.28], [7.50, -0.96], [7.56, -0.51], [7.61, -0.23], [7.66, -0.69], [7.72, -0.37], [7.74, -0.55], [7.82, -0.14], [7.90, -0.78],
    [8.00, -0.28], [8.07, -0.51], [8.10, -0.74], [8.17, -0.19], [8.24, -0.31], [8.46, -0.74], [8.48, -0.17], [8.58, -1.07],
    [4.51, -1.56], [4.97, -1.15], [5.02, -1.16], [5.15, -1.12], [5.28, -0.96], [5.41, -0.71], [5.47, -1.44], [5.48, -0.96], [5.50, -1.28], [5.56, -1.10],
    [5.62, -1.22], [5.73, -1.33], [5.79, -1.24], [5.88, -1.46], [5.95, -1.78], [6.00, -1.41], [6.06, -1.60], [6.10, -1.16], [6.15, -1.92], [6.21, -1.37],
    [6.25, -1.69], [6.29, -1.10], [6.33, -1.51], [6.37, -1.83], [6.41, -1.28], [6.45, -1.60], [6.50, -1.06], [6.53, -1.46], [6.57, -1.88], [6.61, -1.24],
    [6.64, -1.69], [6.69, -1.42], [6.71, -1.92], [6.75, -1.15], [6.79, -1.60], [6.83, -1.33], [6.87, -1.78], [6.91, -1.46], [6.94, -1.10], [6.98, -1.65],
    [7.02, -1.42], [7.06, -1.88], [7.08, -1.56], [7.12, -1.24], [7.16, -1.69], [7.20, -1.06], [7.24, -1.46], [7.29, -1.83], [7.35, -1.28], [7.38, -1.60],
    [7.44, -1.06], [7.48, -1.88], [7.53, -1.46], [7.57, -1.15], [7.63, -1.74], [7.68, -1.42], [7.73, -1.33], [7.77, -1.51], [7.88, -1.19], [7.90, -0.87],
    [7.98, -1.78], [8.09, -1.33], [8.10, -1.62], [8.09, -1.92],
    [4.72, -2.22], [4.86, -2.93], [5.07, -2.44], [5.18, -2.26], [5.23, -2.31], [5.46, -2.61], [5.50, -2.26], [5.47, -2.82], [5.53, -2.65], [5.64, -2.08],
    [5.72, -2.70], [5.76, -2.79], [5.83, -2.72], [5.88, -2.74], [5.93, -2.50], [5.97, -2.70], [6.00, -2.13], [6.01, -2.33], [6.06, -2.01], [6.09, -2.52],
    [6.13, -2.83], [6.16, -2.20], [6.20, -2.42], [6.24, -2.62], [6.27, -2.29], [6.30, -2.86], [6.34, -2.11], [6.38, -2.52], [6.42, -2.74], [6.47, -2.33],
    [6.52, -2.04], [6.55, -2.61], [6.59, -2.88], [6.63, -2.15], [6.67, -2.38], [6.71, -2.06], [6.75, -2.70], [6.78, -2.29], [6.82, -2.93], [6.85, -2.42],
    [6.90, -2.15], [6.95, -2.61], [7.03, -2.38], [7.08, -2.24], [7.12, -2.52], [7.16, -2.70], [7.21, -2.47], [7.27, -2.06], [7.31, -2.79], [7.37, -2.20],
    [7.43, -2.52], [7.48, -2.01], [7.53, -2.83], [7.57, -2.29], [7.64, -2.08], [7.72, -2.20], [7.74, -2.24], [7.82, -2.61], [7.98, -2.11], [7.98, -2.68],
    [7.98, -2.42], [8.52, -2.00],
    [4.14, -3.34], [4.24, -3.36], [5.00, -3.23], [5.09, -3.11], [5.07, -3.72], [5.10, -3.84], [5.35, -3.11], [5.39, -3.08], [5.44, -3.05], [5.41, -3.54],
    [5.47, -3.57], [5.53, -3.47], [5.56, -3.96], [5.64, -3.02], [5.68, -3.70], [5.68, -3.78], [5.74, -3.57], [5.87, -3.38], [5.92, -3.36], [5.95, -3.20],
    [6.00, -3.25], [6.06, -3.59], [6.11, -3.70], [6.16, -3.66], [6.20, -3.25], [6.25, -3.45], [6.29, -3.29], [6.33, -3.79], [6.37, -3.52], [6.39, -3.06],
    [6.45, -3.32], [6.53, -3.02], [6.58, -3.17], [6.62, -3.43], [6.66, -3.70], [6.70, -3.29], [6.74, -3.52], [6.78, -3.78], [6.82, -3.11], [6.85, -3.43],
    [6.91, -3.66], [6.95, -3.25], [6.99, -3.90], [7.03, -3.47], [7.08, -3.06], [7.12, -3.70], [7.16, -3.34], [7.21, -3.15], [7.27, -3.66], [7.33, -3.43],
    [7.37, -3.75], [7.43, -3.29], [7.50, -3.06], [7.57, -3.20], [7.61, -3.90], [7.66, -4.00], [7.72, -3.11], [7.74, -3.70], [7.80, -3.29], [7.82, -3.52],
    [7.95, -3.79], [8.19, -3.54],
    [4.70, -4.82], [5.07, -4.57], [5.26, -4.48], [5.31, -4.80], [5.27, -4.89], [5.58, -4.48], [5.58, -4.80], [5.79, -4.36], [5.85, -4.42], [5.89, -3.98],
    [5.92, -4.07], [6.00, -4.57], [6.01, -4.78], [6.05, -4.21], [6.09, -4.42], [6.18, -4.51], [6.22, -4.66], [6.24, -4.34], [6.32, -4.82], [6.34, -4.21],
    [6.38, -4.57], [6.39, -4.07], [6.42, -3.96], [6.53, -4.71], [6.58, -4.30], [6.62, -3.93], [6.69, -4.36], [6.74, -4.94], [6.78, -4.16], [6.85, -4.71],
    [6.89, -4.87], [6.95, -4.75], [6.99, -4.71], [7.08, -4.98], [7.06, -4.09], [7.14, -4.53], [7.32, -4.11], [7.37, -3.98], [7.45, -4.32], [7.56, -3.98],
    [7.58, -4.48], [7.65, -3.96], [7.69, -3.84]
];

// ---- PACC: second pass over the dense core, upper half ----
const paccPtsB = [
    [6.58, 3.97], [6.90, 3.91], [7.14, 3.93], [7.45, 3.95], [7.77, 3.82], [8.09, 3.76], [5.83, 3.63], [6.01, 3.73], [6.45, 3.76], [6.74, 3.74],
    [6.79, 3.76], [6.95, 3.84], [6.98, 3.70], [7.16, 3.70], [7.64, 3.84], [7.86, 3.74],
    [6.33, 3.47], [6.57, 3.52], [6.69, 3.42], [6.77, 3.38], [7.01, 3.54], [7.15, 3.52], [7.43, 3.42], [7.64, 3.58], [7.75, 3.47], [7.79, 3.33], [7.93, 3.38],
    [6.29, 3.24], [6.40, 3.15], [6.53, 3.24], [6.58, 3.31], [6.66, 3.20], [6.71, 3.31], [7.19, 3.24], [7.27, 3.20], [7.56, 3.24], [7.66, 3.20], [7.80, 3.20], [8.01, 3.24],
    [6.03, 3.10], [6.20, 3.03], [6.52, 3.01], [6.74, 3.03], [6.82, 2.97], [6.98, 2.99], [7.07, 2.92], [7.24, 2.97], [7.32, 3.06], [7.48, 3.03], [7.52, 2.92], [7.74, 2.99], [8.05, 2.92],
    [6.00, 2.65], [6.08, 2.69], [6.36, 2.79], [6.54, 2.83], [6.61, 2.69], [6.87, 2.76], [7.00, 2.79], [7.11, 2.72], [7.19, 2.83], [7.28, 2.69], [7.35, 2.92], [7.79, 2.69], [7.90, 2.83], [8.22, 2.63],
    [5.60, 2.42], [5.83, 2.47], [5.92, 2.42], [6.21, 2.56], [6.34, 2.56], [6.52, 2.42], [6.58, 2.37], [6.73, 2.48], [6.83, 2.51], [6.92, 2.42], [6.98, 2.56], [7.08, 2.37], [7.27, 2.42], [7.43, 2.48], [7.50, 2.33], [7.64, 2.56], [7.74, 2.42], [7.95, 2.37],
    [6.08, 2.21], [6.21, 2.17], [6.33, 2.08], [6.55, 2.19], [6.66, 2.15], [6.74, 2.19], [6.83, 2.05], [6.90, 2.19], [7.01, 2.15], [7.07, 2.28], [7.12, 2.24], [7.19, 2.10], [7.32, 2.21], [7.40, 2.05], [7.44, 2.17], [7.48, 2.33], [7.56, 2.19], [7.90, 2.28], [8.11, 2.24],
    [5.73, 1.83], [5.97, 1.87], [6.05, 1.73], [6.13, 1.83], [6.21, 1.92], [6.27, 1.87], [6.45, 1.69], [6.54, 1.75], [6.64, 1.78], [6.78, 1.92], [6.87, 1.78], [6.92, 1.92], [6.98, 1.69], [7.03, 1.78], [7.06, 1.87], [7.12, 1.64], [7.21, 1.87], [7.27, 1.94], [7.37, 1.87], [7.52, 1.83], [7.60, 1.73], [7.72, 1.83], [7.93, 1.92], [8.01, 1.83],
    [5.39, 1.41], [5.47, 1.51], [5.55, 1.37], [5.68, 1.46], [5.81, 1.41], [5.92, 1.60], [6.03, 1.55], [6.10, 1.37], [6.16, 1.57], [6.21, 1.37], [6.29, 1.46], [6.37, 1.55], [6.45, 1.64], [6.54, 1.41], [6.61, 1.37], [6.69, 1.51], [6.74, 1.46], [6.84, 1.37], [6.95, 1.55], [7.01, 1.46], [7.07, 1.52], [7.14, 1.37], [7.26, 1.46], [7.33, 1.55], [7.40, 1.37], [7.48, 1.51], [7.61, 1.51], [7.74, 1.37], [7.80, 1.46],
    [5.71, 1.14], [5.76, 0.96], [5.84, 0.91], [6.01, 0.96], [6.10, 1.14], [6.18, 1.10], [6.26, 1.00], [6.34, 1.10], [6.42, 1.19], [6.52, 1.02], [6.58, 1.14], [6.66, 1.05], [6.74, 1.19], [6.80, 1.00], [6.90, 1.14], [7.00, 1.20], [7.11, 1.10], [7.19, 1.14], [7.32, 1.19], [7.37, 0.96], [7.50, 1.05], [7.58, 1.00], [7.95, 1.10], [8.06, 1.14],
    [5.36, 0.68], [5.43, 0.80], [5.51, 0.77], [5.76, 0.59], [6.05, 0.68], [6.10, 0.87], [6.18, 0.75], [6.29, 0.82], [6.40, 0.68], [6.53, 0.77], [6.63, 0.82], [6.71, 0.59], [6.79, 0.73], [6.92, 0.59], [6.99, 0.82], [7.08, 0.66], [7.19, 0.75], [7.35, 0.77], [7.48, 0.82], [7.61, 0.64],
    [5.31, 0.41], [5.18, 0.41], [5.63, 0.09], [5.79, 0.37], [5.95, 0.37], [6.03, 0.18], [6.13, 0.14], [6.21, 0.37], [6.34, 0.23], [6.45, 0.33], [6.50, 0.09], [6.61, 0.23], [6.74, 0.37], [6.87, 0.09], [6.98, 0.33], [7.06, 0.18], [7.19, 0.41], [7.29, 0.27], [7.48, 0.18], [7.64, 0.37], [7.77, 0.41], [7.82, 0.27],
    [5.66, -0.28], [5.87, -0.19], [6.03, -0.19], [6.10, -0.14], [6.29, -0.28], [6.42, -0.10], [6.58, -0.14], [6.69, -0.19], [6.79, -0.11], [6.90, -0.19], [6.98, -0.05], [7.06, -0.14], [7.32, -0.19], [7.48, -0.23], [7.61, -0.10], [7.69, -0.19], [7.95, -0.37], [8.22, -0.19]
];

// ---- PACC: second pass over the dense core, lower half ----
const paccPtsC = [
    [6.79, -0.46], [6.84, -0.49], [6.98, -0.46], [7.08, -0.50], [7.24, -0.49], [7.37, -0.46], [7.48, -0.50], [7.61, -0.46], [7.72, -0.52], [8.01, -0.52], [8.11, -0.52], [8.22, -0.49],
    [5.39, -0.69], [5.55, -0.60], [5.71, -0.73], [5.95, -0.82], [6.10, -0.78], [6.18, -0.69], [6.26, -0.78], [6.42, -0.78], [6.50, -0.69], [6.58, -0.64], [6.66, -0.78], [6.74, -0.69], [6.90, -0.73], [7.06, -0.64], [7.16, -0.69], [7.32, -0.78], [7.48, -0.64], [7.64, -0.73], [7.74, -0.69], [7.88, -0.87], [7.90, -0.96],
    [5.47, -1.10], [5.66, -0.96], [5.89, -1.05], [6.03, -0.92], [6.13, -1.10], [6.21, -0.96], [6.29, -0.87], [6.37, -1.01], [6.47, -1.14], [6.55, -0.96], [6.63, -1.05], [6.71, -0.92], [6.79, -1.01], [6.87, -1.14], [6.95, -1.05], [7.00, -1.28], [7.06, -1.14], [7.14, -1.01], [7.16, -1.33], [7.24, -1.19], [7.32, -0.96], [7.43, -1.24], [7.50, -1.33], [7.58, -1.10], [7.66, -1.37], [7.74, -1.33], [7.80, -1.24], [7.90, -1.14], [8.06, -1.10],
    [5.89, -1.60], [5.95, -1.46], [6.03, -1.78], [6.10, -1.56], [6.21, -1.42], [6.29, -1.69], [6.37, -1.51], [6.45, -1.60], [6.53, -1.78], [6.61, -1.46], [6.66, -1.69], [6.71, -1.88], [6.77, -1.60], [6.84, -1.78], [6.95, -1.51], [7.03, -1.42], [7.08, -1.69], [7.14, -1.56], [7.21, -1.83], [7.32, -1.60], [7.37, -1.88], [7.48, -1.74], [7.56, -1.60], [7.69, -1.78], [7.80, -1.56], [7.88, -1.69], [8.03, -1.78], [8.09, -1.88], [8.19, -1.42],
    [5.18, -2.29], [5.26, -2.33], [5.50, -2.29], [5.66, -2.10], [5.87, -2.01], [5.95, -2.20], [6.00, -2.06], [6.05, -2.15], [6.13, -2.51], [6.18, -2.38], [6.26, -2.56], [6.37, -2.20], [6.42, -2.06], [6.50, -2.33], [6.58, -2.24], [6.66, -2.06], [6.74, -2.15], [6.79, -2.42], [6.87, -2.33], [6.95, -2.06], [7.03, -2.38], [7.08, -2.24], [7.16, -2.51], [7.24, -2.33], [7.32, -2.10], [7.43, -2.42], [7.50, -2.10], [7.58, -2.38], [7.74, -2.20], [7.88, -2.24], [7.98, -2.42],
    [5.34, -3.11], [5.44, -2.61], [5.52, -3.02], [5.71, -2.68], [5.79, -2.74], [5.89, -2.83], [5.97, -2.70], [6.05, -2.61], [6.13, -2.83], [6.21, -2.74], [6.26, -2.93], [6.34, -2.65], [6.42, -2.97], [6.50, -2.70], [6.55, -3.06], [6.69, -2.88], [6.77, -2.70], [6.84, -2.88], [6.98, -2.79], [7.08, -3.02], [7.14, -2.74], [7.21, -3.15], [7.27, -3.06], [7.43, -3.11], [7.50, -2.88], [7.74, -3.06], [7.85, -3.06], [8.01, -2.65],
    [5.42, -3.57], [5.52, -3.47], [5.68, -3.38], [5.73, -3.57], [5.89, -3.38], [5.97, -3.25], [6.03, -3.52], [6.16, -3.66], [6.29, -3.43], [6.42, -3.57], [6.55, -3.34], [6.63, -3.52], [6.71, -3.38], [6.77, -3.57], [6.84, -3.75], [6.95, -3.61], [7.08, -3.57], [7.16, -3.43], [7.24, -3.29], [7.37, -3.61], [7.48, -3.29], [7.61, -3.34], [7.69, -3.52], [7.72, -3.79], [7.95, -3.79], [8.21, -3.54],
    [5.26, -4.43], [5.29, -4.89], [5.58, -3.98], [5.60, -4.80], [5.79, -4.34], [5.89, -3.98], [5.92, -4.07], [6.00, -4.62], [6.05, -4.21], [6.18, -4.34], [6.24, -4.57], [6.34, -4.66], [6.37, -4.25], [6.40, -3.98], [6.42, -4.11], [6.55, -4.34], [6.61, -3.93], [6.69, -4.30], [6.74, -4.16], [6.84, -4.71], [6.90, -4.85], [6.98, -4.66], [7.06, -4.11], [7.14, -4.53], [7.32, -4.11], [7.45, -4.34], [7.56, -3.93], [7.58, -4.48], [6.74, -4.95], [7.11, -4.98]
];
const paccFit = [[4.15, -1.67], [9.13, 0.78]];
const paccCiX = [4.15, 5.0, 5.5, 6.0, 6.5, 6.8, 7.0, 7.5, 8.0, 8.5, 9.13];
const paccCiHi = [-0.70, -0.59, -0.52, -0.44, -0.35, -0.24, -0.11, 0.29, 0.70, 1.12, 1.68];
const paccCiLo = [-2.64, -1.91, -1.50, -1.08, -0.69, -0.50, -0.43, -0.33, -0.26, -0.18, -0.12];
const paccTicks = [-5, -4, -3, -2, -1, 0, 1, 2, 3, 4];

const xTicks = [4, 5, 6, 7, 8, 9];

function levelPoints(levels, xs) {
    const out = [];
    levels.forEach((y, i) => xs[i].forEach(x => out.push([x, y])));
    return out;
}

const panels = [
    {name: 'FR', pts: levelPoints(frLevels, frX), min: 14, max: 42, ticks: frTicks, fit: frFit, ciX: frCiX, hi: frCiHi, lo: frCiLo},
    {name: 'TR96', pts: levelPoints(trLevels, trX), min: 55, max: 95, ticks: trTicks, fit: trFit, ciX: trCiX, hi: trCiHi, lo: trCiLo},
    {name: 'DLM', pts: levelPoints(dlmLevels, dlmX), min: 4, max: 20, ticks: dlmTicks, fit: dlmFit, ciX: dlmCiX, hi: dlmCiHi, lo: dlmCiLo},
    {name: 'DSS', pts: levelPoints(dssLevels, dssX), min: 20, max: 67, ticks: dssTicks, fit: dssFit, ciX: dssCiX, hi: dssCiHi, lo: dssCiLo},
    {name: 'MMSE', pts: levelPoints(mmLevels, mmX), min: 25, max: 31, ticks: mmTicks, fit: mmFit, ciX: mmCiX, hi: mmCiHi, lo: mmCiLo},
    {name: 'PACC', pts: paccPtsA.concat(paccPtsB, paccPtsC), min: -5, max: 4, ticks: paccTicks, fit: paccFit, ciX: paccCiX, hi: paccCiHi, lo: paccCiLo}
];

const FONT = '"Liberation Serif", "Times New Roman", serif';
const TEXT = '#262626';
const AXIS = '#7f7f7f';
const colLeft = [57, 537, 1017];
const rowTop = [12, 469];

const grids = [], xAxes = [], yAxes = [], series = [];

panels.forEach((p, i) => {
    // fixed plot boxes; do not let v6 shrink them to keep the axis names inside
    grids.push({left: colLeft[i % 3], top: rowTop[Math.floor(i / 3)], width: 328, height: 328.5, outerBoundsMode: 'none'});

    xAxes.push({
        gridIndex: i, type: 'value', min: 4, max: 9.2,
        name: '{n|Adjusted Hippocampal Volume (cm}{s|3}{n|)}',
        nameLocation: 'middle', nameGap: 38,
        nameTextStyle: {
            rich: {
                n: {fontFamily: FONT, fontWeight: 'bold', fontSize: 21, color: TEXT, lineHeight: 24, verticalAlign: 'bottom'},
                s: {fontFamily: FONT, fontWeight: 'bold', fontSize: 14, color: TEXT, lineHeight: 14, verticalAlign: 'top', padding: [0, 0, 15, 0]}
            }
        },
        axisLine: {show: true, onZero: false, lineStyle: {color: AXIS, width: 1}},
        axisTick: {show: true, inside: true, length: 4, customValues: xTicks, lineStyle: {color: AXIS}},
        axisLabel: {customValues: xTicks, margin: 10, fontFamily: FONT, fontWeight: 'bold', fontSize: 20, color: TEXT},
        splitLine: {show: false}
    });

    yAxes.push({
        gridIndex: i, type: 'value', min: p.min, max: p.max,
        name: p.name, nameLocation: 'middle', nameGap: 29, nameRotate: 90,
        nameTextStyle: {fontFamily: FONT, fontWeight: 'bold', fontSize: 22, color: TEXT},
        axisLine: {show: true, onZero: false, lineStyle: {color: AXIS, width: 1}},
        axisTick: {show: true, inside: true, length: 4, customValues: p.ticks, lineStyle: {color: AXIS}},
        axisLabel: {customValues: p.ticks, margin: 6, fontFamily: FONT, fontWeight: 'bold', fontSize: 20, color: TEXT},
        splitLine: {show: true, lineStyle: {color: '#e3e3e3', width: 1}}
    });

    // confidence band as a polygon through the axis scales
    series.push({
        type: 'custom', xAxisIndex: i, yAxisIndex: i, silent: true, z: 1,
        data: [[p.ciX[0], p.lo[0]]],
        renderItem: (params, api) => {
            const pts = [];
            p.ciX.forEach((x, k) => pts.push(api.coord([x, p.hi[k]])));
            for (let k = p.ciX.length - 1; k >= 0; k--) pts.push(api.coord([p.ciX[k], p.lo[k]]));
            return {type: 'polygon', shape: {points: pts}, style: {fill: '#b5d3f7', stroke: '#3c3c3c', lineWidth: 0.8}};
        }
    });

    series.push({
        type: 'scatter', xAxisIndex: i, yAxisIndex: i, z: 2, silent: true,
        symbolSize: 3.5, itemStyle: {color: '#000'},
        data: p.pts
    });

    series.push({
        type: 'line', xAxisIndex: i, yAxisIndex: i, z: 3, silent: true,
        symbol: 'none', lineStyle: {color: '#0000ff', width: 4},
        data: p.fit
    });
});

const chart = echarts.init(document.getElementById('chart'));
chart.setOption({
    animation: false,
    backgroundColor: '#fff',
    grid: grids,
    xAxis: xAxes,
    yAxis: yAxes,
    series: series
});
</script>
</body>
</html>
